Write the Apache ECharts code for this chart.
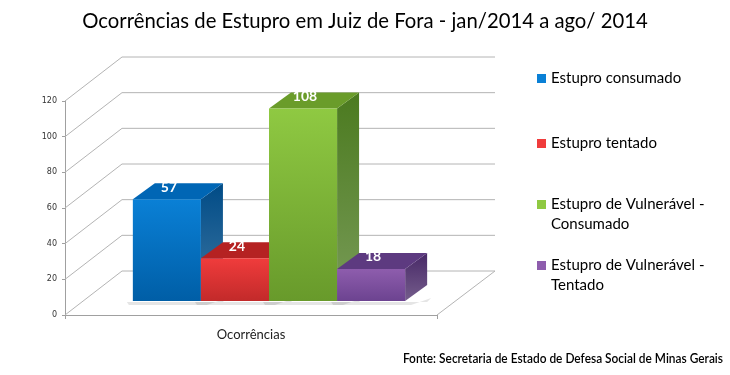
<!DOCTYPE html>
<html>
<head>
<meta charset="utf-8">
<script src="https://cdn.jsdelivr.net/npm/echarts@6/dist/echarts.min.js"></script>
<style>
  html, body { margin: 0; padding: 0; background: #fff; }
  #chart { width: 730px; height: 375px; }
</style>
</head>
<body>
<div id="chart"></div>
<script>
// dados
var categories  = ['Ocorrências']
var seriesNames = ['Estupro consumado', 'Estupro tentado', 'Estupro de Vulnerável - Consumado', 'Estupro de Vulnerável - Tentado']
var values      = [57, 24, 108, 18]
var yTicks      = [0, 20, 40, 60, 80, 100, 120]

// cores: frente (topo, base), lado, tampa
var palette = [
    { front: ['#0a80d6', '#005ea6'], side: '#004b86', top: '#0066b5' },
    { front: ['#f03c3c', '#c22a2a'], side: '#8c1a1a', top: '#b52222' },
    { front: ['#8fc942', '#689a2b'], side: '#4b7a1f', top: '#6a9c2a' },
    { front: ['#8e5dad', '#6c4390'], side: '#472866', top: '#5d3a80' }
]

var WALL_DX = 57, WALL_DY = 44   // profundidade das paredes
var BAR_DX = 22, BAR_DY = 16     // profundidade das barras
var OFF_X = 18, OFF_Y = 14       // barras no meio do piso

var chart = echarts.init(document.getElementById('chart'))

function wallRender (params, api) {
    var cs = params.coordSys
    var p = api.coord([0, api.value(1)])
    var y = p[1]
    var style = { stroke: '#b4b4b4', lineWidth: 1 }
    var kids = [
        { type: 'line', shape: { x1: cs.x, y1: y, x2: cs.x + WALL_DX, y2: y - WALL_DY }, style: style },
        { type: 'line', shape: { x1: cs.x + WALL_DX, y1: y - WALL_DY, x2: cs.x + cs.width + WALL_DX + 1, y2: y - WALL_DY }, style: style }
    ]
    if (api.value(1) === 0) {
        kids.push({ type: 'line', shape: { x1: cs.x + cs.width, y1: y, x2: cs.x + cs.width + WALL_DX + 1, y2: y - WALL_DY }, style: style })
    }
    return { type: 'group', silent: true, children: kids }
}

function barRender (idx) {
    return function (params, api) {
        var base = api.coord([api.value(0), 0])
        var top = api.coord([api.value(0), api.value(1)])
        var band = api.size([1, 0])[0]
        var w = band * 0.183
        var x0 = base[0] - 2 * w + idx * w + OFF_X
        var yb = base[1] - OFF_Y
        var yt = top[1] - OFF_Y
        var c = palette[idx]
        return {
            type: 'group',
            children: [
                { type: 'polygon', silent: true,
                  shape: { points: [[x0 - 6, yb + 1], [x0 + w + BAR_DX, yb + 1], [x0 + w + BAR_DX + 4, yb - 3], [x0 + w + 6, yb + 4], [x0 - 4, yb + 4]] },
                  style: { fill: 'rgba(0,0,0,0.10)' } },
                { type: 'polygon',
                  shape: { points: [[x0 + w, yt], [x0 + w + BAR_DX, yt - BAR_DY], [x0 + w + BAR_DX, yb - BAR_DY], [x0 + w, yb]] },
                  style: { fill: new echarts.graphic.LinearGradient(0, 0, 0, 1, [
                      { offset: 0, color: c.side }, { offset: 1, color: echarts.color.lift(c.side, 0.25) }]) } },
                { type: 'polygon',
                  shape: { points: [[x0, yt], [x0 + BAR_DX, yt - BAR_DY], [x0 + w + BAR_DX, yt - BAR_DY], [x0 + w, yt]] },
                  style: { fill: c.top } },
                { type: 'rect',
                  shape: { x: x0, y: yt, width: w, height: yb - yt },
                  style: { fill: new echarts.graphic.LinearGradient(0, 0, 0, 1, [
                      { offset: 0, color: c.front[0] }, { offset: 1, color: c.front[1] }]) } },
                { type: 'text', silent: true,
                  style: { x: x0 + w / 2 + 2, y: yt - 12, text: String(api.value(1)),
                           fill: '#fff', font: 'bold 14px Lato, "Open Sans", sans-serif',
                           align: 'center', verticalAlign: 'middle' } }
            ]
        }
    }
}

var series = [{
    name: 'parede', type: 'custom', silent: true, z: 1,
    renderItem: wallRender,
    data: yTicks.map(function (v) { return [0, v] })
}]
for (var i = 0; i < seriesNames.length; i++) {
    series.push({
        name: seriesNames[i], type: 'custom', z: 2 + i,
        renderItem: barRender(i),
        itemStyle: { color: palette[i].front[0] },
        data: [[0, values[i]]]
    })
}

function legendFor (i, top) {
    var parts = seriesNames[i].split(' - ')
    return {
        data: [seriesNames[i]], orient: 'vertical', left: 537, top: top, padding: 0,
        itemWidth: 9, itemHeight: 9, icon: 'rect', selectedMode: false,
        formatter: function (n) {
            return parts.length > 1 ? '{a|' + parts[0] + ' -}\n{a|' + parts[1] + '}' : '{a|' + n + '}'
        },
        textStyle: {
            padding: parts.length > 1 ? [20, 0, 0, 0] : 0,
            rich: { a: { fontFamily: 'Lato, "Open Sans", sans-serif', fontSize: 15, color: '#000', lineHeight: 20 } }
        }
    }
}

var option = {
    backgroundColor: '#fff',
    animation: false,
    title: {
        text: 'Ocorrências de Estupro em Juiz de Fora - jan/2014 a ago/ 2014',
        left: 'center', top: 6,
        textStyle: { fontFamily: 'Lato, "Open Sans", sans-serif', fontSize: 20.3, fontWeight: 'normal', color: '#000' }
    },
    legend: [legendFor(0, 71), legendFor(1, 136), legendFor(2, 197), legendFor(3, 258)],
    grid: { left: 65, right: 293, top: 101, bottom: 60 },
    xAxis: {
        type: 'category', data: categories,
        axisLine: { lineStyle: { color: '#a0a0a0' } },
        axisTick: { show: true, alignWithLabel: false, length: 4, lineStyle: { color: '#a0a0a0' } },
        axisLabel: { margin: 13, fontFamily: 'Lato, "Open Sans", sans-serif', fontSize: 13, color: '#222' }
    },
    yAxis: {
        type: 'value', min: 0, max: 120, interval: 20,
        axisLine: { show: true, lineStyle: { color: '#a0a0a0' } },
        axisTick: { show: true, length: 3, lineStyle: { color: '#a0a0a0' } },
        splitLine: { show: false },
        axisLabel: { margin: 8, fontFamily: '"DejaVu Sans", Verdana, sans-serif', fontSize: 8, color: '#333' }
    },
    graphic: [{
        type: 'text', x: 723, y: 358, scaleX: 0.85,
        style: { text: 'Fonte: Secretaria de Estado de Defesa Social de Minas Gerais',
                 font: '600 14px Lato, "Open Sans", sans-serif', fill: '#000',
                 align: 'right', verticalAlign: 'middle' }
    }],
    series: series
}

chart.setOption(option)
</script>
</body>
</html>
